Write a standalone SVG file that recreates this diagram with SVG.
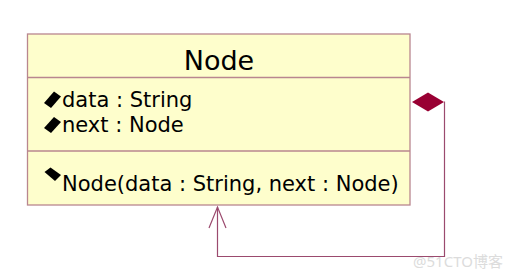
<svg xmlns="http://www.w3.org/2000/svg" width="510" height="278" viewBox="0 0 510 278">
<style>
.box{fill:#fefecc;stroke:#b9868f;stroke-width:1.3}
.div{stroke:#b9868f;stroke-width:1.3}
.t{font-family:"DejaVu Sans",Verdana,sans-serif;fill:#000}
.vis{fill:#000}
.conn{fill:none;stroke:#9b4a6e;stroke-width:1.2}
.wm{font-family:"Noto Sans","Noto Sans CJK SC",sans-serif;fill:#dcdcdc;font-size:15px}
</style>
<rect width="510" height="278" fill="#fff"/>
<g id="node-Node">
<rect class="box" x="27.5" y="34" width="382.5" height="171"/>
<line class="div" x1="27.5" y1="77.5" x2="410" y2="77.5"/>
<line class="div" x1="27.5" y1="151" x2="410" y2="151"/>
<text class="t" x="219" y="70" font-size="27" text-anchor="middle">Node</text>
<polygon class="vis" points="44,103 54,91.5 61,96.5 51,108"/>
<text class="t" x="62" y="107" font-size="21">data : String</text>
<polygon class="vis" points="44,128 54,117 61,122 51,133"/>
<text class="t" x="62" y="132" font-size="21">next : Node</text>
<polygon class="vis" points="44.5,172 50.5,167.5 61,175 55,181"/>
<text class="t" x="62" y="191" font-size="21">Node(data : String, next : Node)</text>
</g>
<g id="connectors">
<polyline class="conn" points="444,102 444.5,102 444.5,256.5 217.5,256.5 217.5,207"/>
<polyline class="conn" points="209,228 217.5,207 226,228"/>
<polygon points="412,102 428,92.5 444,102 428,111.5" fill="#990033"/>
</g>
<text class="wm" x="413" y="267">@51CTO博客</text>
</svg>
